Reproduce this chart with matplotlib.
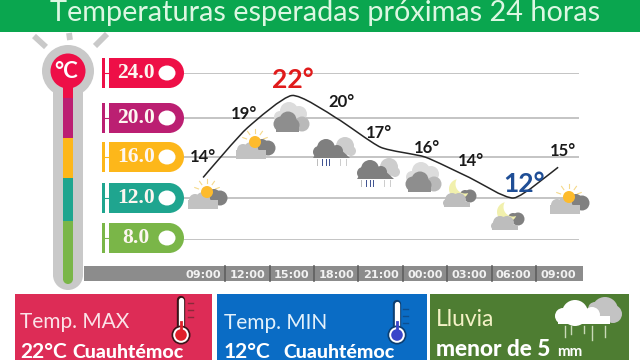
#!/usr/bin/env python3
import matplotlib
matplotlib.use('Agg')
import matplotlib.pyplot as plt
import numpy as np

from matplotlib.patches import Circle, Ellipse, PathPatch, Polygon, Rectangle
from matplotlib.path import Path

plt.rcParams['font.family'] = ['Lato', 'DejaVu Sans']

TITLE = 'Temperaturas esperadas próximas 24 horas'
HOURS = ['09:00', '12:00', '15:00', '18:00', '21:00', '00:00', '03:00', '06:00', '09:00']
TEMPS = [14, 19, 22, 20, 17, 16, 14, 12, 15]
SCALE_TEMPS = [8, 12, 16, 20, 24]
SCALE_LABELS = ['8.0', '12.0', '16.0', '20.0', '24.0']
SCALE_COLORS = ['#7ab648', '#1fa58f', '#fdb71a', '#bb1f72', '#ee0f47']
SKY = ['sun', 'sun', 'cloud', 'rain', 'rain', 'cloud', 'moon', 'moon', 'sun']

# rows of the picture where the scale lines sit, they are not quite evenly spaced
SCALE_ROWS = [240, 198, 157, 118, 73]

GREY_LIGHT = '#c9c9c9'
GREY_DARK = '#8e8e8e'


def temp_to_row(temp):
  return -np.interp(temp, SCALE_TEMPS, SCALE_ROWS)


def row_to_temp(row):
  return np.interp(-np.asarray(row), SCALE_ROWS[::-1], SCALE_TEMPS[::-1])


def blob(axe, parts, color, zorder=3):
  for xpos, ypos, rad in parts:
    axe.add_patch(Circle((xpos, ypos), rad, fc=color, ec='none', zorder=zorder))


def cloud_pair(axe, xpos, ypos):
  blob(axe, [(xpos + 1, ypos - 9, 9), (xpos + 11, ypos - 6, 8), (xpos - 8, ypos - 3, 6),
             (xpos + 3, ypos + 1, 9)], '#dcdcdc')
  blob(axe, [(xpos + 14, ypos + 4, 7.5)], '#b9b9b9')
  blob(axe, [(xpos - 7, ypos + 4, 7.5), (xpos, ypos, 8.5), (xpos + 5, ypos + 5, 6.5)], GREY_DARK, 4)
  axe.add_patch(Rectangle((xpos - 12, ypos + 4), 23, 8, fc=GREY_DARK, ec='none', zorder=4))


def rain_cloud(axe, xpos, ypos):
  blob(axe, [(xpos + 13, ypos - 3, 9), (xpos + 19, ypos + 2, 5)], '#cdcdcd')
  blob(axe, [(xpos - 6, ypos - 1, 9), (xpos - 13, ypos + 3, 6), (xpos + 5, ypos + 2, 6)],
       '#7f7f7f', 4)
  axe.add_patch(Polygon([(xpos - 19, ypos + 9), (xpos + 18, ypos + 9), (xpos + 6, ypos - 2),
                         (xpos - 12, ypos - 2)], fc='#7f7f7f', ec='none', zorder=4))
  for off, col in zip([-15, -10, -6, -3, 8, 14], ['#bbbbbb', '#3b4f8f', '#3b4f8f', '#3b4f8f',
                                                   '#cccccc', '#cccccc']):
    axe.plot([xpos + off, xpos + off], [ypos + 10, ypos + 16], color=col, lw=.7, zorder=3)


def sun_cloud(axe, xpos, ypos):
  for ang in np.radians([200, 235, 270, 305, 340]):
    axe.plot([xpos + 9 * np.cos(ang), xpos + 13 * np.cos(ang)],
             [ypos - 6 + 9 * np.sin(ang), ypos - 6 + 13 * np.sin(ang)],
             color='#f5d98a', lw=.8, zorder=2)
  blob(axe, [(xpos + 13, ypos, 7.5), (xpos + 7, ypos - 3, 6)], '#808080')
  blob(axe, [(xpos, ypos - 6, 6)], '#fdbb2d', 4)
  blob(axe, [(xpos - 12, ypos + 2, 6), (xpos - 4, ypos + 1, 7)], '#c2c2c2', 3.5)
  axe.add_patch(Rectangle((xpos - 19, ypos + 2), 30, 9, fc='#c2c2c2', ec='none', zorder=3.5))


def crescent(axe, xpos, ypos, rad=10., inner=9.5, off_x=6., off_y=-5., color='#f1f0ad'):
  dist = np.hypot(off_x, off_y)
  ang = np.arctan2(off_y, off_x)
  phi = np.arccos((dist ** 2 + rad ** 2 - inner ** 2) / (2 * dist * rad))
  psi = np.arccos((dist ** 2 + inner ** 2 - rad ** 2) / (2 * dist * inner))
  outer = np.linspace(ang + phi, ang + 2 * np.pi - phi, 40)
  back = np.linspace(ang + np.pi + psi, ang + np.pi - psi, 40)
  pts = np.r_[np.c_[xpos + rad * np.cos(outer), ypos + rad * np.sin(outer)],
              np.c_[xpos + off_x + inner * np.cos(back), ypos + off_y + inner * np.sin(back)]]
  axe.add_patch(Polygon(pts, fc=color, ec='none', zorder=3.5))


def moon_cloud(axe, xpos, ypos):
  blob(axe, [(xpos + 10, ypos + 1, 6.5), (xpos + 5, ypos, 5)], '#808080')
  crescent(axe, xpos - 1, ypos - 6)
  blob(axe, [(xpos - 8, ypos + 5, 7), (xpos - 1, ypos + 5, 7), (xpos - 13, ypos + 8, 4)],
       '#bdbdbd', 4)
  axe.add_patch(Rectangle((xpos - 16, ypos + 7), 26, 5, fc='#bdbdbd', ec='none', zorder=4))


def thermometer(base):
  # rays on top of the bulb
  for (x1, y1), (x2, y2) in [((34, 36), (46, 47)), ((69, 33), (70, 40)), ((107, 34), (95, 46))]:
    base.plot([x1, x2], [y1, y2], color=GREY_LIGHT, lw=4.2, solid_capstyle='butt')
  base.add_patch(Circle((68, 71), 26, fc=GREY_LIGHT, ec='none'))
  base.add_patch(Rectangle((53, 80), 30, 196, fc=GREY_LIGHT, ec='none'))
  base.add_patch(Circle((68, 275), 15, fc=GREY_LIGHT, ec='none', zorder=1))

  edges = [280, 221, 178, 138, 98, 71]
  for col, top, bot in zip(SCALE_COLORS, edges[1:], edges[:-1]):
    base.add_patch(Rectangle((63, top), 10, bot - top, fc=col, ec='none', zorder=2))
  base.add_patch(Circle((68, 279), 5, fc=SCALE_COLORS[0], ec='none', zorder=2))
  base.add_patch(Circle((68, 71), 17.5, fc=SCALE_COLORS[-1], ec='none', zorder=3))
  base.text(66, 72, '°C', color='white', fontsize=16, fontweight='bold', ha='center',
            va='center', zorder=4)


def scale_pills(base):
  for label, col, row in zip(SCALE_LABELS, SCALE_COLORS, SCALE_ROWS):
    if label == '8.0':
      row = row - 2
    base.add_patch(Rectangle((102, row - 15), 3, 30, fc=col, ec='none', zorder=3))
    base.plot([105, 109], [row, row], color=col, lw=.8, zorder=3)
    base.add_patch(Rectangle((109, row - 15), 60, 30, fc=col, ec='none', zorder=3))
    base.add_patch(Circle((169, row), 15, fc=col, ec='none', zorder=3))
    base.add_patch(Ellipse((167, row), 17, 15, fc='white', ec='none', zorder=4))
    base.text(136, row, label, color='#fdf6f0', fontsize=15.5, fontweight='bold',
              family='Liberation Serif', ha='center', va='center', zorder=4)


def small_thermo(base, xpos, ytop, ybot, ink, fill):
  base.plot([xpos, xpos], [ytop + 3, ybot - 6], color=ink, lw=6, solid_capstyle='round', zorder=3)
  base.plot([xpos, xpos], [ytop + 3, ybot - 6], color='white', lw=3.8, solid_capstyle='round', zorder=3)
  base.add_patch(Circle((xpos, ybot), 9.5, fc=ink, ec='none', zorder=4))
  base.add_patch(Circle((xpos, ybot), 7.8, fc='white', ec='none', zorder=4))
  base.add_patch(Circle((xpos, ybot), 5.8, fc=fill, ec='none', zorder=4))
  base.plot([xpos, xpos], [ybot - 13, ybot], color=fill, lw=2, zorder=4)


def panels(base):
  base.add_patch(Rectangle((15, 294), 197, 66, fc='#dd2c56', ec='none'))
  base.add_patch(Rectangle((217, 294), 210, 66, fc='#0a6cc5', ec='none'))
  base.add_patch(Rectangle((430, 294), 199, 66, fc='#4e7d32', ec='none'))

  base.text(20, 322, 'Temp. MAX', color='#fbe3e8', fontsize=15, va='center')
  base.text(20, 352, '22°C', color='white', fontsize=15, fontweight='bold', va='center')
  base.text(72, 353, 'Cuauhtémoc', color='white', fontsize=14, fontweight='black', va='center')
  small_thermo(base, 181, 297, 335, '#3a1418', '#e0202a')
  for row in [303, 310, 317]:
    base.plot([188, 193], [row, row], color='#8a2a3a', lw=1, zorder=2)

  base.text(224, 323, 'Temp. MIN', color='#e3f1fb', fontsize=15, va='center')
  base.text(224, 352, '12°C', color='white', fontsize=15, fontweight='bold', va='center')
  base.text(283, 353, 'Cuauhtémoc', color='white', fontsize=14, fontweight='black', va='center')
  small_thermo(base, 397, 301, 335, '#0c3f73', '#3a45c9')
  for row in [309, 316, 323]:
    base.plot([403, 408], [row, row], color='#0c4f91', lw=1, zorder=2)

  base.text(436, 320, 'Lluvia', color='#f4f2c6', fontsize=16.5, va='center')
  base.text(436, 349, 'menor de 5', color='white', fontsize=16.3, fontweight='black', va='center')
  base.text(557, 352, 'mm', color='white', fontsize=11, fontweight='bold', va='center')
  blob(base, [(605, 310, 13), (613, 314, 9), (595, 309, 7)], '#c3c3c3')
  blob(base, [(575, 313, 13), (563, 316, 8), (592, 315, 8), (606, 320, 4)], 'white', 4)
  base.add_patch(Rectangle((558, 316), 52, 8, fc='white', ec='none', zorder=4))
  for xpos, row in [(565, 337), (571, 334), (584, 333), (592, 340), (605, 337)]:
    base.plot([xpos, xpos], [326, row], color='#c9d9b8', lw=1, zorder=3)


def graph(filename):
  fig = plt.figure(figsize=(6.4, 3.6), dpi=100)

  base = fig.add_axes([0, 0, 1, 1])
  base.set_xlim(0, 640)
  base.set_ylim(360, 0)
  base.axis('off')

  base.add_patch(Rectangle((0, 0), 640, 32, fc='#0aa64f', ec='none'))
  base.text(325, 13, TITLE, color='#dcf7e2', fontsize=20.8, ha='center', va='center')

  thermometer(base)
  scale_pills(base)
  panels(base)

  # the hours band with its separators
  base.add_patch(Rectangle((84, 266), 499, 15, fc='#8c8c8c', ec='none', zorder=1))
  for idx in range(len(HOURS) - 1):
    sep = 203 + 44.4 * (idx + .5)
    base.plot([sep, sep], [266, 281], color='#5f5f5f', lw=1.2, zorder=1.5)

  # chart area goes from the end of the pills to the end of the lines, 8 to 24 degrees
  axc = fig.add_axes([184 / 640, (360 - 240) / 360, (579 - 184) / 640, (240 - 73) / 360])
  axc.patch.set_alpha(0)
  axc.set_yscale('function', functions=(temp_to_row, row_to_temp))
  axc.set_ylim(8, 24)
  axc.set_xlim(-.43, 8.47)
  for spine in axc.spines.values():
    spine.set_visible(False)

  pos = np.arange(len(TEMPS))
  axc.set_yticks(SCALE_TEMPS)
  axc.set_yticklabels([])
  axc.tick_params(axis='y', length=0)
  axc.grid(axis='y', color='#c4c4c4', linewidth=1.4, zorder=0)
  axc.set_axisbelow(True)
  axc.set_xticks(pos)
  axc.set_xticklabels(HOURS, color='#f2f2f2', fontsize=8.1, fontweight='bold', family='DejaVu Sans')
  axc.tick_params(axis='x', length=0, pad=21.5)

  # Catmull-Rom segments through the temperatures
  verts = [(pos[0], TEMPS[0])]
  codes = [Path.MOVETO]
  last = len(pos) - 1
  for idx in range(last):
    prv, nxt = max(idx - 1, 0), min(idx + 2, last)
    verts.append((pos[idx] + (pos[idx + 1] - pos[prv]) / 10,
                  TEMPS[idx] + (TEMPS[idx + 1] - TEMPS[prv]) / 10))
    verts.append((pos[idx + 1] - (pos[nxt] - pos[idx]) / 10,
                  TEMPS[idx + 1] - (TEMPS[nxt] - TEMPS[idx]) / 10))
    verts.append((pos[idx + 1], TEMPS[idx + 1]))
    codes += [Path.CURVE4] * 3
  axc.add_patch(PathPatch(Path(verts, codes), fc='none', ec='#262626', lw=1.1,
                          clip_on=False, zorder=5))

  # label offsets in pixels from their point
  offsets = [(0, 20), (-3, 14), (1, 16), (5, 16), (-2, 14), (2, 9), (2, 17), (10, 14), (5, 16)]
  peak, low = max(TEMPS), min(TEMPS)
  for idx, temp in enumerate(TEMPS):
    size, color = 12, '#1a1a1a'
    if temp == peak:
      size, color = 19, '#e01b1b'
    elif temp == low:
      size, color = 19, '#1f4e96'
    axc.annotate(f'{temp}°', (idx, temp), xytext=(offsets[idx][0] * .72, offsets[idx][1] * .72),
                 textcoords='offset points', ha='center', va='center', color=color,
                 fontsize=size, fontweight='bold', zorder=6, annotation_clip=False)

  # weather icons sit over the scale lines, in picture pixels
  top = fig.add_axes([0, 0, 1, 1])
  top.set_xlim(0, 640)
  top.set_ylim(360, 0)
  top.axis('off')
  drawers = {'sun': sun_cloud, 'cloud': cloud_pair, 'rain': rain_cloud, 'moon': moon_cloud}
  spots = [(207, 198), (255, 148), (288, 120), (332, 149), (376, 170), (420, 180),
           (460, 195), (508, 218), (569, 203)]
  for kind, (xpos, ypos) in zip(SKY, spots):
    drawers[kind](top, xpos, ypos)

  fig.savefig(filename, dpi=100)
  plt.close(fig)


if __name__ == '__main__':
  graph('out.png')
